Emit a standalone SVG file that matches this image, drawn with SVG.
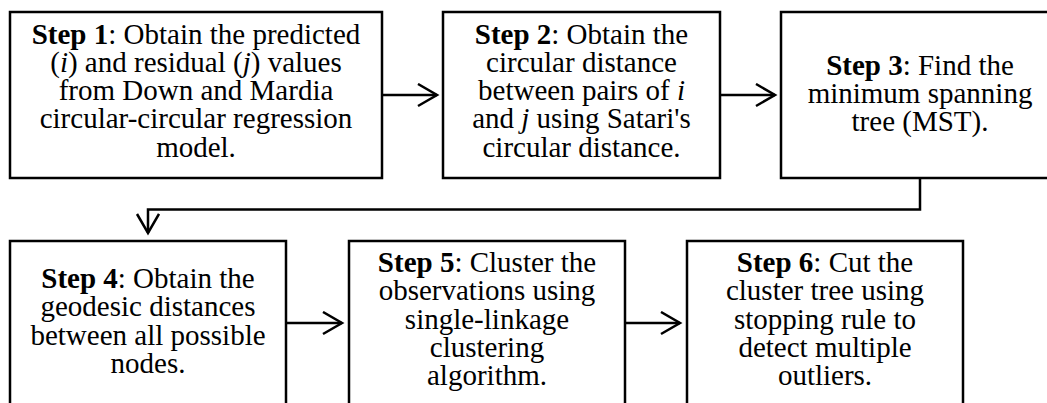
<svg xmlns="http://www.w3.org/2000/svg" width="1047" height="403" viewBox="0 0 1047 403">
<style>
.box{fill:#fff;stroke:#000;stroke-width:2.5}
.t{font-family:"Liberation Serif","Times New Roman",serif;font-size:29px;fill:#000;text-anchor:middle}
.b{font-weight:bold}
.i{font-style:italic}
.c{fill:none;stroke:#000;stroke-width:2.5}
</style>
<defs>
<marker id="ah" markerWidth="24" markerHeight="26" refX="21" refY="12" orient="auto" markerUnits="userSpaceOnUse">
<path d="M2,1 L21,12 L2,23" fill="none" stroke="#000" stroke-width="2.5"/>
</marker>
</defs>
<rect width="1047" height="403" fill="#fff"/>
<g id="step1">
<rect class="box" x="10" y="12" width="372" height="166"/>
<text class="t" x="196" y="43.5"><tspan class="b">Step 1</tspan>: Obtain the predicted</text>
<text class="t" x="196" y="71.8">(<tspan class="i">i</tspan>) and residual (<tspan class="i">j</tspan>) values</text>
<text class="t" x="196" y="100.1">from Down and Mardia</text>
<text class="t" x="196" y="128.4">circular-circular regression</text>
<text class="t" x="196" y="156.7">model.</text>
</g>
<g id="step2">
<rect class="box" x="443" y="12" width="277" height="166"/>
<text class="t" x="581.5" y="43.5"><tspan class="b">Step 2</tspan>: Obtain the</text>
<text class="t" x="581.5" y="71.8">circular distance</text>
<text class="t" x="581.5" y="100.1">between pairs of <tspan class="i">i</tspan></text>
<text class="t" x="581.5" y="128.4">and <tspan class="i">j</tspan> using Satari's</text>
<text class="t" x="581.5" y="156.7">circular distance.</text>
</g>
<g id="step3">
<rect class="box" x="781" y="12" width="280" height="166"/>
<text class="t" x="920" y="74.5"><tspan class="b">Step 3</tspan>: Find the</text>
<text class="t" x="920" y="102.8">minimum spanning</text>
<text class="t" x="920" y="131.1">tree (MST).</text>
</g>
<g id="step4">
<rect class="box" x="10" y="241" width="276" height="200"/>
<text class="t" x="148" y="288"><tspan class="b">Step 4</tspan>: Obtain the</text>
<text class="t" x="148" y="316.3">geodesic distances</text>
<text class="t" x="148" y="344.6">between all possible</text>
<text class="t" x="148" y="372.9">nodes.</text>
</g>
<g id="step5">
<rect class="box" x="349" y="241" width="276" height="200"/>
<text class="t" x="487" y="272"><tspan class="b">Step 5</tspan>: Cluster the</text>
<text class="t" x="487" y="300.3">observations using</text>
<text class="t" x="487" y="328.6">single-linkage</text>
<text class="t" x="487" y="356.9">clustering</text>
<text class="t" x="487" y="385.2">algorithm.</text>
</g>
<g id="step6">
<rect class="box" x="687" y="241" width="276" height="200"/>
<text class="t" x="825" y="272"><tspan class="b">Step 6</tspan>: Cut the</text>
<text class="t" x="825" y="300.3">cluster tree using</text>
<text class="t" x="825" y="328.6">stopping rule to</text>
<text class="t" x="825" y="356.9">detect multiple</text>
<text class="t" x="825" y="385.2">outliers.</text>
</g>
<g id="connectors">
<path class="c" d="M382,95 H437" marker-end="url(#ah)"/>
<path class="c" d="M720,95 H775" marker-end="url(#ah)"/>
<path class="c" d="M920,178 V209.5 H148 V233" marker-end="url(#ah)"/>
<path class="c" d="M286,323 H342" marker-end="url(#ah)"/>
<path class="c" d="M625,323 H680" marker-end="url(#ah)"/>
</g>
</svg>
